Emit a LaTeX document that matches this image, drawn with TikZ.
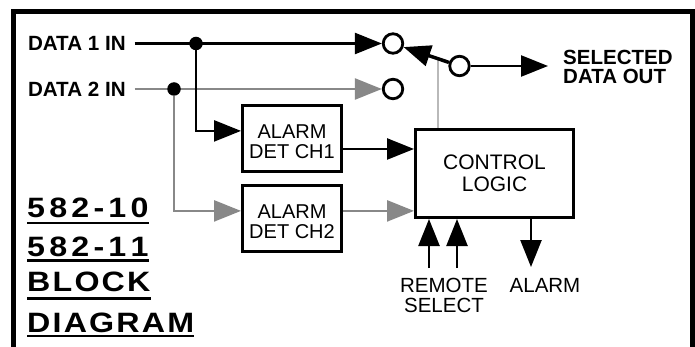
\documentclass[tikz,border=0pt]{standalone}
\usepackage{fontspec}
\setmainfont{Liberation Sans}
\newfontfamily\ttlfont[FakeStretch=1.15]{Liberation Sans}
\usetikzlibrary{arrows.meta,calc}
\definecolor{dgray}{RGB}{136,136,136}
\definecolor{lgray}{RGB}{185,185,185}
\newcommand{\tk}{\kern2.2pt}
\newcommand{\dk}{\kern4.2pt}
\newcommand{\lift}{\rule{0pt}{21pt}}
\begin{document}
\begin{tikzpicture}[x=1pt,y=-1pt,
  tri/.style={-{Triangle[length=27pt,width=21pt]}},
  conn/.style={line width=2.5pt},
  blk/.style={draw,line width=3pt,inner sep=0,align=center,font=\fontsize{20}{20}\selectfont},
  sw/.style={circle,draw,line width=2.8pt,minimum size=19.5pt,inner sep=0},
  jdot/.style={circle,fill,minimum size=13.5pt,inner sep=0},
  lbl/.style={inner sep=0,outer xsep=9pt,font=\bfseries\fontsize{20.6}{20}\selectfont},
  ttl/.style={inner sep=0,font=\ttlfont\bfseries\fontsize{28}{28}\selectfont},
  uline/.style={line width=2.5pt},
  txt/.style={inner sep=0,align=center,font=\fontsize{20.5}{20}\selectfont}]
\useasboundingbox (0,0) rectangle (695,347);
% frame
\draw[line width=5pt] (13,352) -- (13,12) -- (692,12) -- (692,352);
% inputs
\node[lbl,anchor=west] (d1) at (19,43.5) {DATA 1 IN};
\node[lbl,anchor=west] (d2) at (19,89) {DATA 2 IN};
% switch contacts
\node[sw] (c1) at (393,43.5) {};
\node[sw] (c2) at (393,89) {};
\node[sw] (so) at (459.5,66) {};
\draw[conn,tri] (d1.east) -- (c1.west);
\draw[conn,dgray,tri] (d2.east) -- (c2.west);
\node[jdot] (j1) at (196,43.5) {};
\node[jdot] (j2) at (174,89) {};
% blocks
\node[blk,minimum width=99pt,minimum height=66pt] (a1) at (292,138.5) {\lift ALARM\\DET CH1};
\node[blk,minimum width=99pt,minimum height=66pt] (a2) at (292,218.5) {\lift ALARM\\DET CH2};
\node[blk,font=\fontsize{21}{22}\selectfont,minimum width=158pt,minimum height=88pt] (cl) at (494.5,173.5) {CONTROL\\LOGIC};
% branches
\draw[conn,dgray,tri] (j2) |- ($(a2.north west)!0.39!(a2.south west)$);
\draw[conn,tri] (j1) |- ($(a1.north west)!0.39!(a1.south west)$);
\coordinate (p1) at ($(a1.north east)!0.652!(a1.south east)$);
\draw[conn,tri] (p1) -- (p1 -| cl.west);
\coordinate (p2) at ($(a2.north east)!0.39!(a2.south east)$);
\draw[conn,dgray,tri] (p2) -- (p2 -| cl.west);
% control to switch arm
\coordinate (ap) at ($(so)!0.32!(c1)$);
\draw[conn,lgray] (cl.north -| ap) -- (ap);
\draw[line width=3.5pt,tri] (so) -- (c1);
% output
\coordinate (oe) at (548,66);
\draw[conn,tri] (so) -- (oe);
\node[anchor=west,align=left,inner sep=0,font=\bfseries\fontsize{20.5}{19}\selectfont] (sel) at (563,66.5) {SELECTED\\DATA OUT};
% remote select and alarm
\coordinate (r1) at (429,268);
\coordinate (r2) at (457,268);
\draw[conn,tri] (r1) -- (r1 |- cl.south);
\draw[conn,tri] (r2) -- (r2 |- cl.south);
\coordinate (al) at (531,267);
\draw[conn,tri] (al |- cl.south) -- (al);
\node[txt] (rs) at (444,295) {REMOTE\\SELECT};
\node[txt] (alm) at (545,285) {ALARM};
% title
\node[ttl,anchor=base west] (t1) at (27,218) {5\dk8\dk2\dk-\dk1\dk0};
\node[ttl,anchor=base west] (t2) at (27,256.5) {5\dk8\dk2\dk-\dk1\dk1};
\node[ttl,anchor=base west] (t3) at (27,291) {B\tk L\tk O\tk C\tk K};
\node[ttl,anchor=base west] (t4) at (27,332) {D\tk I\tk A\tk G\tk R\tk A\tk M};
\draw[uline] ([yshift=-5pt]t1.base west) -- ([yshift=-5pt]t1.base east);
\draw[uline] ([yshift=-4pt]t2.base west) -- ([yshift=-4pt]t2.base east);
\draw[uline] ([yshift=-7.5pt]t3.base west) -- ([yshift=-7.5pt]t3.base east);
\draw[uline] ([yshift=-4pt]t4.base west) -- ([yshift=-4pt]t4.base east);
\end{tikzpicture}
\end{document}
